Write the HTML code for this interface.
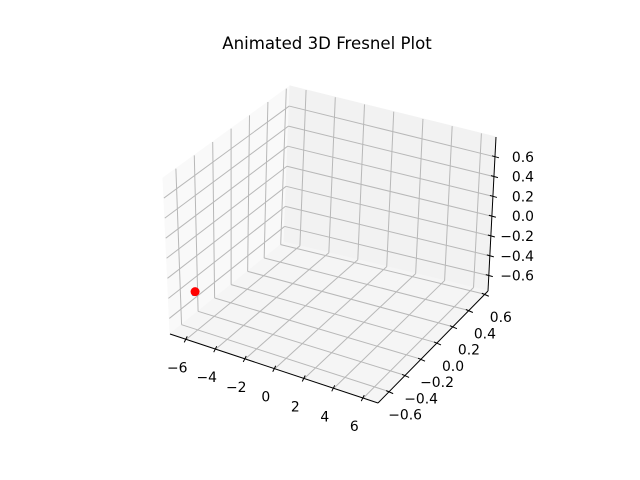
<!DOCTYPE html>
<html><head><meta charset="utf-8"><style>
html,body{margin:0;padding:0;background:#fff;}
svg{display:block;font-family:"DejaVu Sans","Liberation Sans",sans-serif;}
</style></head><body>
<svg id="chart" width="640" height="480" viewBox="0 0 640 480">
<rect width="640" height="480" fill="#fff"/>
<text x="327" y="49" text-anchor="middle" font-size="16.6" fill="#000">Animated 3D Fresnel Plot</text>
<g id="panes"></g><g id="grid"></g><g id="axes"></g><g id="series"></g>
</svg>
<script>
const xTicks=[-6,-4,-2,0,2,4,6];
const yTicks=[-0.6,-0.4,-0.2,0.0,0.2,0.4,0.6];
const zTicks=[-0.6,-0.4,-0.2,0.0,0.2,0.4,0.6];
const xTickLabels=["−6","−4","−2","0","2","4","6"];
const yTickLabels=["−0.6","−0.4","−0.2","0.0","0.2","0.4","0.6"];
const zTickLabels=["−0.6","−0.4","−0.2","0.0","0.2","0.4","0.6"];
const trailX=[-7.05,-6.98];
const trailY=[-0.47,-0.45];
const trailZ=[-0.55,-0.52];
const pointX=[-6.98];
const pointY=[-0.45];
const pointZ=[-0.52];

const X0=-7.1,X1=7.0,Y0=-0.74,Y1=0.64,Z0=-0.755,Z1=0.80;
const C={ "000":[170,334],"100":[378,403],"110":[488,291],"010":[284,242],
          "001":[163,178],"011":[290,86],"111":[496,137],"101":[375,247]};
function lerp(a,b,t){return [a[0]+(b[0]-a[0])*t,a[1]+(b[1]-a[1])*t];}
function P(x,y,z){
  const u=(x-X0)/(X1-X0),v=(y-Y0)/(Y1-Y0),w=(z-Z0)/(Z1-Z0);
  const a=lerp(lerp(C["000"],C["100"],u),lerp(C["010"],C["110"],u),v);
  const b=lerp(lerp(C["001"],C["101"],u),lerp(C["011"],C["111"],u),v);
  return lerp(a,b,w);
}
const NS="http://www.w3.org/2000/svg";
function mk(tag,attrs,parent){const e=document.createElementNS(NS,tag);for(const k in attrs)e.setAttribute(k,attrs[k]);document.getElementById(parent).appendChild(e);return e;}
function poly(pts){return pts.map(p=>p[0].toFixed(1)+","+p[1].toFixed(1)).join(" ");}

let e;
e=mk("polygon",{points:poly([P(X0,Y0,Z0),P(X0,Y1,Z0),P(X0,Y1,Z1),P(X0,Y0,Z1)]),fill:"#f9f9f9",stroke:"#f9f9f9"},"panes");


e=mk("polygon",{points:poly([P(X0,Y1,Z0),P(X1,Y1,Z0),P(X1,Y1,Z1),P(X0,Y1,Z1)]),fill:"#f2f2f2",stroke:"#f2f2f2"},"panes");


e=mk("polygon",{points:poly([P(X0,Y0,Z0),P(X1,Y0,Z0),P(X1,Y1,Z0),P(X0,Y1,Z0)]),fill:"#f5f5f5",stroke:"#f5f5f5"},"panes");



function gl(a,b,name){const l=mk("line",{x1:a[0],y1:a[1],x2:b[0],y2:b[1],stroke:"#b8b8b8","stroke-width":1},"grid");

}
xTicks.forEach(x=>{gl(P(x,Y0,Z0),P(x,Y1,Z0),"x-grid-floor");gl(P(x,Y1,Z0),P(x,Y1,Z1),"x-grid-back");});
yTicks.forEach(y=>{gl(P(X0,y,Z0),P(X1,y,Z0),"y-grid-floor");gl(P(X0,y,Z0),P(X0,y,Z1),"y-grid-side");});
zTicks.forEach(z=>{gl(P(X0,Y0,z),P(X0,Y1,z),"z-grid-side");gl(P(X0,Y1,z),P(X1,Y1,z),"z-grid-back");});

function al(a,b,name){const l=mk("line",{x1:a[0],y1:a[1],x2:b[0],y2:b[1],stroke:"#000","stroke-width":1},"axes");

}
al(P(X0,Y0,Z0),P(X1,Y0,Z0),"x-axis-line");
al(P(X1,Y0,Z0),P(X1,Y1,Z0),"y-axis-line");
al(P(X1,Y1,Z0),P(X1,Y1,Z1),"z-axis-line");
function tx(x,y,s,anchor,name){const t=mk("text",{x:x,y:y,"font-size":13.9,"text-anchor":anchor,fill:"#000"},"axes");t.textContent=s;

}
xTicks.forEach((x,i)=>{const p=P(x,Y0,Z0);al([p[0]+1,p[1]-3],[p[0]-2,p[1]+3],"x-tick");tx(p[0]-9,p[1]+33,xTickLabels[i],"middle","x-tick-label");});
yTicks.forEach((y,i)=>{const p=P(X1,y,Z0);al([p[0]-3,p[1]-1],[p[0]+4,p[1]+2],"y-tick");tx(p[0]+16,p[1]+28,yTickLabels[i],"middle","y-tick-label");});
zTicks.forEach((z,i)=>{const p=P(X1,Y1,z);al([p[0]-3,p[1]-1],[p[0]+4,p[1]+1],"z-tick");tx(534,p[1]+5,zTickLabels[i],"end","z-tick-label");});

const trail=trailX.map((x,i)=>P(x,trailY[i],trailZ[i]));
e=mk("polyline",{points:poly(trail),fill:"none",stroke:"#1f77b4","stroke-width":1.5},"series");


pointX.forEach((x,i)=>{const p=P(x,pointY[i],pointZ[i]);
const c=mk("circle",{cx:p[0],cy:p[1],r:4.5,fill:"#ff0000"},"series");

});
</script>
</body></html>
